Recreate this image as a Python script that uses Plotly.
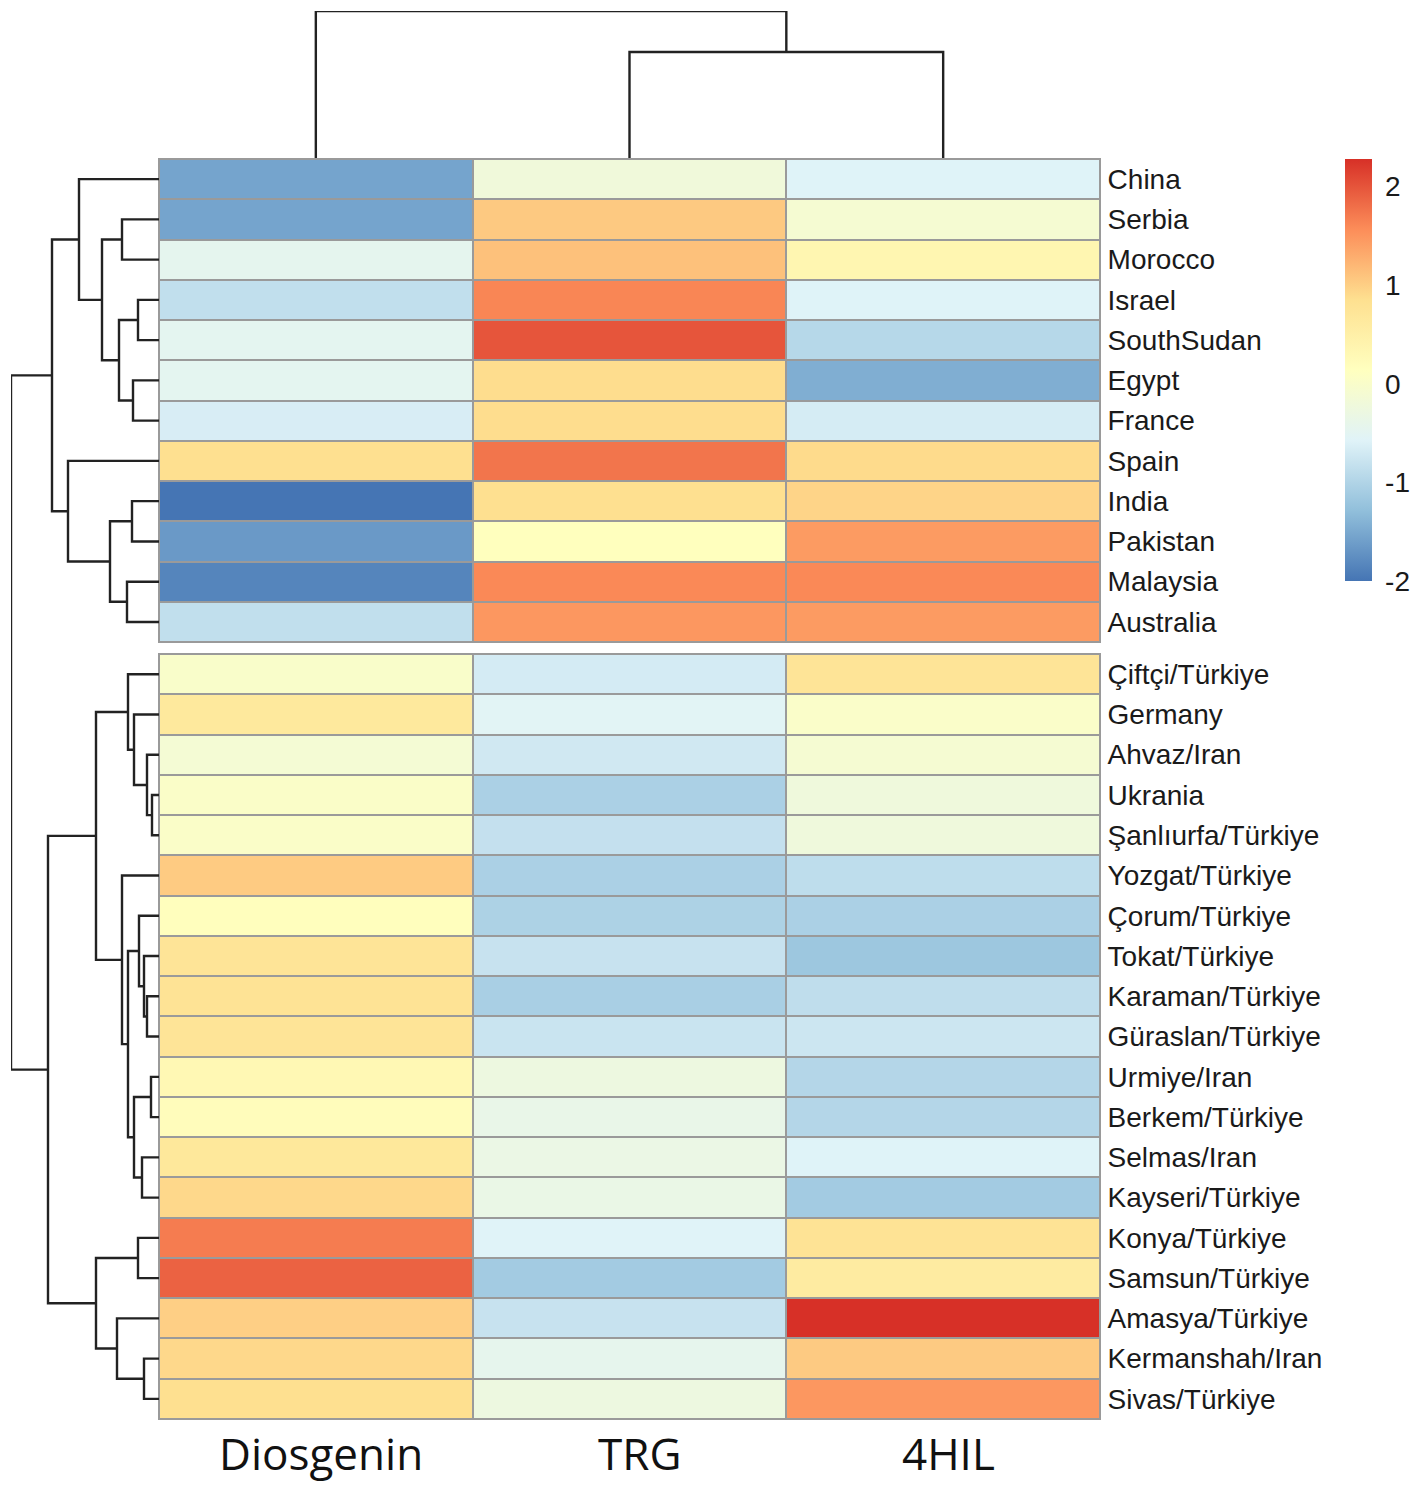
import plotly.graph_objects as go

W, H = 1417, 1488

columns = ["Diosgenin", "TRG", "4HIL"]

rows_top = ["China", "Serbia", "Morocco", "Israel", "SouthSudan", "Egypt", "France",
            "Spain", "India", "Pakistan", "Malaysia", "Australia"]
rows_bottom = ["Çiftçi/Türkiye", "Germany", "Ahvaz/Iran", "Ukrania", "Şanlıurfa/Türkiye",
               "Yozgat/Türkiye", "Çorum/Türkiye", "Tokat/Türkiye", "Karaman/Türkiye",
               "Güraslan/Türkiye", "Urmiye/Iran", "Berkem/Türkiye", "Selmas/Iran",
               "Kayseri/Türkiye", "Konya/Türkiye", "Samsun/Türkiye", "Amasya/Türkiye",
               "Kermanshah/Iran", "Sivas/Türkiye"]

# values
z_top = [
    [-1.55, -0.20, -0.58],
    [-1.55, 1.05, -0.10],
    [-0.45, 1.12, 0.35],
    [-0.85, 1.62, -0.58],
    [-0.47, 2.00, -0.95],
    [-0.47, 0.88, -1.45],
    [-0.65, 0.88, -0.67],
    [0.85, 1.75, 0.90],
    [-2.00, 0.85, 0.96],
    [-1.65, 0.15, 1.45],
    [-1.85, 1.60, 1.60],
    [-0.85, 1.48, 1.45],
]
z_bottom = [
    [0.00, -0.68, 0.75],
    [0.65, -0.53, 0.02],
    [-0.12, -0.72, -0.10],
    [0.03, -1.05, -0.22],
    [0.03, -0.83, -0.22],
    [1.03, -1.05, -0.88],
    [0.17, -1.03, -1.05],
    [0.75, -0.80, -1.18],
    [0.78, -1.07, -0.87],
    [0.75, -0.78, -0.75],
    [0.30, -0.27, -0.97],
    [0.20, -0.37, -0.97],
    [0.68, -0.33, -0.58],
    [0.92, -0.35, -1.12],
    [1.70, -0.57, 0.78],
    [1.90, -1.12, 0.60],
    [1.00, -0.80, 2.28],
    [0.92, -0.43, 1.04],
    [0.85, -0.27, 1.48],
]

# row tree: a string is a leaf, an int is an earlier merge
row_left = ["Serbia", "Israel", "Egypt", 1, 0, "China", "India", "Malaysia", 6, "Spain", 5,
            "Ukrania", "Ahvaz/Iran", "Germany", "Çiftçi/Türkiye", "Karaman/Türkiye",
            "Tokat/Türkiye", "Çorum/Türkiye", "Urmiye/Iran", "Selmas/Iran", 18, 17,
            "Yozgat/Türkiye", 14, "Konya/Türkiye", "Kermanshah/Iran", "Amasya/Türkiye",
            24, 23, 10]
row_right = ["Morocco", "SouthSudan", "France", 2, 3, 4, "Pakistan", "Australia", 7, 8, 9,
             "Şanlıurfa/Türkiye", 11, 12, 13, "Güraslan/Türkiye", 15, 16, "Berkem/Türkiye",
             "Kayseri/Türkiye", 19, 20, 21, 22, "Samsun/Türkiye", "Sivas/Türkiye", 25,
             26, 27, 28]
row_height = [3.7, 2.1, 2.6, 4.0, 5.7, 8.0, 2.7, 3.2, 4.9, 9.1, 10.7,
              0.7, 1.2, 2.5, 3.1, 1.2, 1.5, 2.0, 0.8, 1.7, 2.5, 3.1, 3.7, 6.3,
              2.1, 1.5, 4.2, 6.3, 11.1, 14.8]

# column tree
col_left = ["TRG", "Diosgenin"]
col_right = ["4HIL", 0]
col_height = [10.6, 14.7]

colorbar_ticks = [-2, -1, 0, 1, 2]
colorbar_text = ["-2", "-1", "0", "1", "2"]
z_min, z_max = -2.0, 2.28

palette = ["#4575B4", "#91BFDB", "#E0F3F8", "#FFFFBF", "#FEE090", "#FC8D59", "#D73027"]
colorscale = [[i / 6, c] for i, c in enumerate(palette)]


def tree_segments(left, right, heights, leaf_pos):
    # elbow lines for each merge, returned as (height, position) lists
    node = []
    hs, ps = [], []
    for a, b, h in zip(left, right, heights):
        if isinstance(a, str):
            ha, pa = 0, leaf_pos[a]
        else:
            ha, pa = node[a]
        if isinstance(b, str):
            hb, pb = 0, leaf_pos[b]
        else:
            hb, pb = node[b]
        hs += [ha, h, h, hb, None]
        ps += [pa, pa, pb, pb, None]
        node.append((h, (pa + pb) / 2))
    return hs, ps


# leaves sit at row centres, with a 0.3 row gap between the two blocks
row_pos = {r: i + 0.5 for i, r in enumerate(rows_top)}
row_pos.update({r: len(rows_top) + 0.3 + i + 0.5 for i, r in enumerate(rows_bottom)})
col_pos = {c: i + 0.5 for i, c in enumerate(columns)}

fig = go.Figure()

fig.add_trace(go.Heatmap(
    z=z_top, x=columns, y=rows_top, xaxis="x", yaxis="y",
    zmin=z_min, zmax=z_max, colorscale=colorscale, xgap=2, ygap=2,
    colorbar=dict(
        x=1345 / W, xanchor="left", xpad=0, ypad=0,
        y=(H - 581) / H, yanchor="bottom",
        lenmode="pixels", len=422, thicknessmode="pixels", thickness=27,
        outlinewidth=0, borderwidth=0,
        tickmode="array", tickvals=colorbar_ticks, ticktext=colorbar_text,
        ticks="outside", ticklen=8, tickcolor="white", tickwidth=1,
        tickfont=dict(family="Liberation Sans", size=28, color="#1a1a1a"),
    ),
))
fig.add_trace(go.Heatmap(
    z=z_bottom, x=columns, y=rows_bottom, xaxis="x2", yaxis="y2",
    zmin=z_min, zmax=z_max, colorscale=colorscale, xgap=2, ygap=2, showscale=False,
))

line = dict(color="#222222", width=2.4)
hs, ps = tree_segments(row_left, row_right, row_height, row_pos)
fig.add_trace(go.Scatter(x=hs, y=ps, xaxis="x3", yaxis="y3", mode="lines", line=line,
                         cliponaxis=False, hoverinfo="skip", showlegend=False))
hs, ps = tree_segments(col_left, col_right, col_height, col_pos)
fig.add_trace(go.Scatter(x=ps, y=hs, xaxis="x4", yaxis="y4", mode="lines", line=line,
                         cliponaxis=False, hoverinfo="skip", showlegend=False))

x_dom = [159 / W, 1100 / W]
grid = dict(showgrid=False, zeroline=False)
border = "#9a9a9a"
frame = dict(showline=True, linecolor=border, linewidth=1, mirror=True, **grid)
row_font = dict(family="Liberation Sans", size=28, color="#1a1a1a")
hidden = dict(visible=False, **grid)

fig.update_layout(
    width=W, height=H,
    margin=dict(l=0, r=0, t=0, b=0),
    paper_bgcolor="white",
    plot_bgcolor="white",
    showlegend=False,
    xaxis=dict(domain=x_dom, showticklabels=False, ticks="", anchor="y", **frame),
    yaxis=dict(domain=[(H - 642) / H, (H - 159) / H], anchor="x", side="right",
               autorange="reversed", ticks="", ticklabelstandoff=1,
               tickfont=row_font, **frame),
    xaxis2=dict(domain=x_dom, showticklabels=False, ticks="", anchor="y2", **frame),
    yaxis2=dict(domain=[(H - 1419) / H, (H - 654) / H], anchor="x2", side="right",
                autorange="reversed", ticks="", ticklabelstandoff=1,
                tickfont=row_font, **frame),
    xaxis3=dict(domain=[11 / W, 159 / W], range=[14.8, 0], anchor="y3", **hidden),
    yaxis3=dict(domain=[(H - 1419) / H, (H - 159) / H], range=[31.3, 0], anchor="x3", **hidden),
    xaxis4=dict(domain=x_dom, range=[0, 3], anchor="y4", **hidden),
    yaxis4=dict(domain=[(H - 158) / H, (H - 11) / H], range=[0, 14.7], anchor="x4", **hidden),
)

# grey backing behind each heatmap, it shows through the cell gaps
for ax in ["", "2"]:
    fig.add_shape(type="rect", layer="below", x0=0, x1=1, y0=0, y1=1,
                  xref=f"x{ax} domain", yref=f"y{ax} domain",
                  fillcolor=border, line_width=0)

# column names sit a little right of the column centres in the original
for name, shift in zip(columns, [5, 10, 5]):
    fig.add_annotation(x=name, xref="x2", y=(H - 1453) / H, yref="paper", text=name,
                       showarrow=False, xshift=shift, yanchor="middle",
                       font=dict(family="Open Sans", size=44, color="#111111"))

fig.write_html("out.html", config={"displayModeBar": False},
               post_script="document.body.style.margin='0';")
